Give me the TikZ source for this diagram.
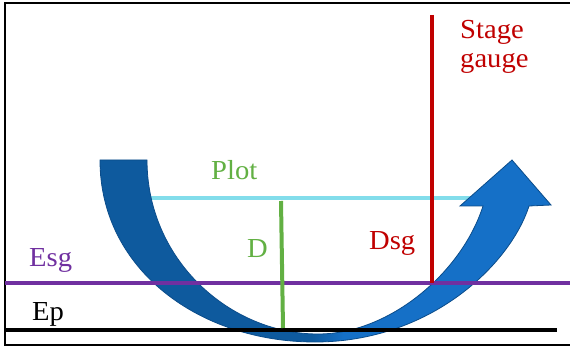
\documentclass[tikz,border=0pt]{standalone}
\usepackage{fontspec}
\setmainfont{Liberation Serif}[FakeStretch=1.04]
\definecolor{darkblue}{HTML}{0E5A9E}
\definecolor{lightblue}{HTML}{1570C7}
\definecolor{edgeblue}{HTML}{0B4C8A}
\definecolor{sgred}{HTML}{C00000}
\definecolor{dgreen}{HTML}{62B043}
\definecolor{epurple}{HTML}{7030A0}
\definecolor{plotcyan}{HTML}{82DDEB}
\pgfdeclarehorizontalshading{arrowshade}{100bp}{color(0bp)=(darkblue); color(48.5bp)=(darkblue); color(52bp)=(lightblue); color(100bp)=(lightblue)}
\begin{document}
\begin{tikzpicture}[x=1pt,y=-1pt,
  lbl/.style={font=\fontsize{27.5}{29}\selectfont, inner sep=0pt, anchor=base west},
  level/.style={line width=3.5pt}]
\useasboundingbox (0,0) rectangle (570,347);
\clip (0,0) rectangle (570,347);
% frame
\draw[line width=2.2pt] (5,3) rectangle (580,345);
% coordinates
\coordinate (plotL) at (150,198);
\coordinate (plotR) at (470,198);
\coordinate (esgL) at (5,283);
\coordinate (esgR) at (572,283);
\coordinate (epL) at (5,330);
\coordinate (epR) at (557,330);
\coordinate (dTop) at (281,201);
\coordinate (dBot) at (283,328);
\coordinate (sgTop) at (432,15);
\coordinate (sgBot) at (432,283);
% plot level
\draw[level, plotcyan] (plotL) -- (plotR);
% curved arrow
\shade[shading=arrowshade, draw=edgeblue, line width=0.8pt]
  (100,160) -- (147,160)
  .. controls (147,260) and (230,334) .. (318,334)
  .. controls (390,334) and (462,272) .. (483,206)
  -- (460,206) -- (512,160) -- (551,205) -- (529,206)
  .. controls (510,265) and (430,342) .. (315,342)
  .. controls (200,342) and (100,270) .. (100,160) -- cycle;
% levels
\draw[level, epurple] (esgL) -- (esgR);
\draw[level, black] (epL) -- (epR);
\draw[line width=4pt, dgreen] (dTop) -- (dBot);
\draw[level, sgred] (sgTop) -- (sgBot);
% labels
\node[lbl, text=sgred] (stage) at (460,39) {Stage};
\node[lbl, text=sgred] (gauge) at (460,68) {gauge};
\node[lbl, text=dgreen] (plot) at (211,180) {Plot};
\node[lbl, text=dgreen] (dlab) at (247,258) {D};
\node[lbl, text=sgred] (dsg) at (369,250) {Dsg};
\node[lbl, text=epurple] (esg) at (29,267) {Esg};
\node[lbl, text=black] (ep) at (32,320) {Ep};
\end{tikzpicture}
\end{document}
